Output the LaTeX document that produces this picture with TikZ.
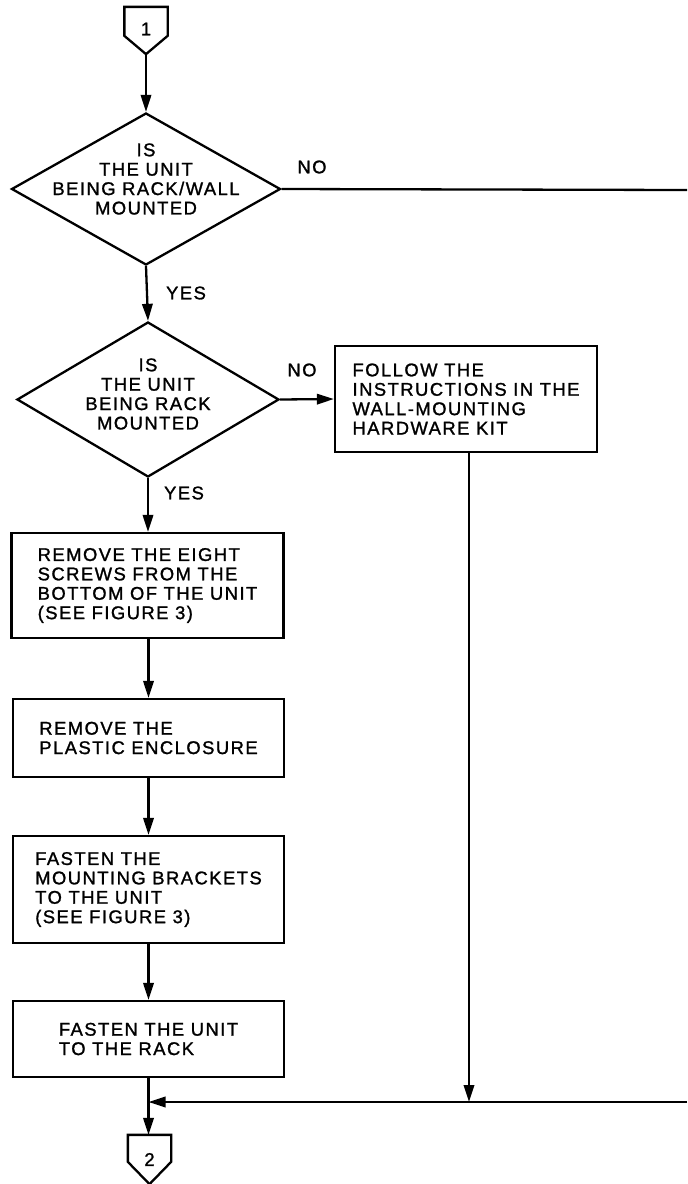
\documentclass[tikz,border=0pt]{standalone}
\usepackage{fontspec}
\setmainfont{Liberation Sans}[LetterSpace=8, FakeBold=1.3]
\usetikzlibrary{shapes.geometric, arrows.meta, calc}

\begin{document}
\begin{tikzpicture}[
    x=0.5pt, y=-0.5pt,
    line width=1.15pt,
    txt/.style={font=\fontsize{9.2pt}{9.7pt}\selectfont},
    procbox/.style={draw, rectangle, inner sep=0pt, align=left, txt},
    decision/.style={draw, diamond, inner sep=0pt},
    dectext/.style={align=center, inner sep=0pt, txt},
    offpage/.style={rectangle, inner sep=0pt, minimum width=20.5pt, txt},
    lbl/.style={inner sep=0pt, txt},
    flow/.style={-{Triangle[length=8.5pt,width=5.2pt]}},
  ]
  \useasboundingbox (0,0) rectangle (687,1184);

  % off-page connector 1
  \node[offpage, minimum height=22.5pt] (c1) at (146,30.5) {\raisebox{1.5pt}{1}};
  \draw (c1.north west) -- (c1.north east) -- ++(0,29) -- (c1.south)
        -- ($(c1.north west)+(0,29)$) -- cycle;

  % decisions
  \node[decision, minimum width=134.5pt, minimum height=76pt] (d1) at (146,189) {};
  \node[dectext] (d1t) at (146,179) {IS\\THE UNIT\\BEING RACK/WALL\\MOUNTED};

  \node[decision, minimum width=131pt, minimum height=77.5pt] (d2) at (148,399.5) {};
  \node[dectext] (d2t) at (148,394) {IS\\THE UNIT\\BEING RACK\\MOUNTED};

  % process boxes
  \node[procbox, minimum width=131pt, minimum height=53pt] (fw) at (466,399)
    {FOLLOW THE\\INSTRUCTIONS IN THE\\WALL-MOUNTING\\HARDWARE KIT};
  \node[procbox, minimum width=136pt, minimum height=52.5pt] (b1) at (147.5,585.5)
    {REMOVE THE EIGHT\\SCREWS FROM THE\\BOTTOM OF THE UNIT\\(SEE FIGURE 3)};
  \node[procbox, minimum width=135.5pt, minimum height=39pt] (b2) at (148.5,738)
    {REMOVE THE\\PLASTIC ENCLOSURE};
  \node[procbox, minimum width=135.5pt, minimum height=53.5pt] (b3) at (148.5,889.5)
    {FASTEN THE\\MOUNTING BRACKETS\\TO THE UNIT\\(SEE FIGURE 3)};
  \node[procbox, minimum width=135.5pt, minimum height=38pt] (b4) at (148.5,1039)
    {FASTEN THE UNIT\\TO THE RACK};

  % off-page connector 2
  \node[offpage, minimum height=23.5pt] (c2) at (149.5,1159.5) {2};
  \draw (c2.north west) -- (c2.north east) -- ++(0,27) -- (c2.south)
        -- ($(c2.north west)+(0,27)$) -- cycle;

  % branch labels
  \node[lbl] (no1) at (312,167) {NO};
  \node[lbl] (yes1) at (186,293) {YES};
  \node[lbl] (no2) at (302,370) {NO};
  \node[lbl] (yes2) at (184,493) {YES};

  % edge coordinates and junctions
  \coordinate (r1) at (687,190);
  \coordinate (r2) at (687,1102);
  \coordinate (fwout) at ($(fw.south)+(3,0)$);
  \coordinate (join) at (b4.south |- r2);

  % connectors
  \draw[flow] (c1.south) -- (d1.north);
  \draw (d1.east) -- (r1);
  \draw[flow] (d1.south) -- (d2.north);
  \draw[flow] (d2.east) -- (fw.west);
  \draw[flow] (d2.south) -- (d2.south |- b1.north);
  \draw[flow] (b1.south -| b2.north) -- (b2.north);
  \draw[flow] (b2.south) -- (b3.north);
  \draw[flow] (b3.south) -- (b4.north);
  \draw[flow] (fwout) -- (fwout |- r2);
  \draw[flow] (r2) -- (join);
  \draw[flow] (b4.south) -- (b4.south |- c2.north);
\end{tikzpicture}
\end{document}
